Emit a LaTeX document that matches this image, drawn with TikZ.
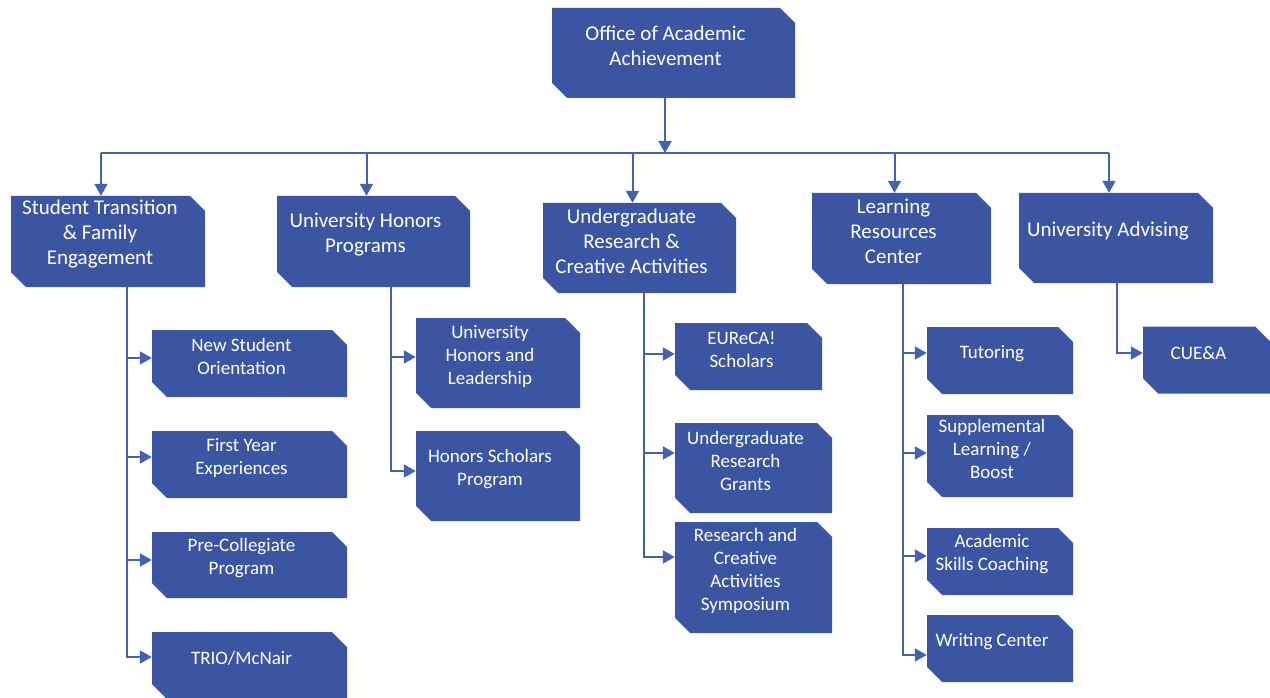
\documentclass[tikz,border=0pt]{standalone}
\usepackage{fontspec}
\setmainfont{Carlito}
\usetikzlibrary{arrows.meta}

\definecolor{boxblue}{RGB}{59,85,163}
\definecolor{lineblue}{RGB}{68,98,178}

\begin{document}
\begin{tikzpicture}[x=1pt,y=-1pt,
    unit/.style={rectangle,inner sep=0pt,fill=white,
      path picture={\fill[boxblue] (path picture bounding box.north west)
        -- ([xshift=-15pt]path picture bounding box.north east)
        -- ([yshift=-15pt]path picture bounding box.north east)
        -- (path picture bounding box.south east)
        -- ([xshift=15pt]path picture bounding box.south west)
        -- ([yshift=15pt]path picture bounding box.south west) -- cycle;}},
    head/.style={text=white,align=center,font=\fontsize{21}{25}\selectfont},
    sub/.style={text=white,align=center,font=\fontsize{19}{23}\selectfont},
    bar/.style={draw=lineblue,line width=2pt},
    link/.style={bar,-{Triangle[length=12pt,width=13pt]}}]
    \useasboundingbox (0,0) rectangle (1270,698);

    % top and first level
    \node[unit,minimum width=243pt,minimum height=90pt] (oaa) at (673.5,53) {};
    \node[unit,minimum width=194pt,minimum height=91pt] (stfe) at (108,241.5) {};
    \node[unit,minimum width=193pt,minimum height=91pt] (uhp) at (373.5,241.5) {};
    \node[unit,minimum width=193pt,minimum height=90pt] (urca) at (639.5,248) {};
    \node[unit,minimum width=179pt,minimum height=91pt] (lrc) at (901.5,238.5) {};
    \node[unit,minimum width=194pt,minimum height=90pt] (ua) at (1116,238) {};

    % second level
    \node[unit,minimum width=195pt,minimum height=67pt] (nso) at (249.5,363.5) {};
    \node[unit,minimum width=195pt,minimum height=67pt] (fye) at (249.5,464.5) {};
    \node[unit,minimum width=195pt,minimum height=66pt] (pcp) at (249.5,565) {};
    \node[unit,minimum width=195pt,minimum height=67pt] (trio) at (249.5,665.5) {};
    \node[unit,minimum width=164pt,minimum height=90pt] (uhl) at (498,363) {};
    \node[unit,minimum width=164pt,minimum height=90pt] (hsp) at (498,476) {};
    \node[unit,minimum width=147pt,minimum height=67pt] (eureca) at (748.5,356.5) {};
    \node[unit,minimum width=157pt,minimum height=90pt] (urg) at (753.5,468) {};
    \node[unit,minimum width=157pt,minimum height=111pt] (rcas) at (753.5,577.5) {};
    \node[unit,minimum width=146pt,minimum height=67pt] (tut) at (1000,360.5) {};
    \node[unit,minimum width=146pt,minimum height=82pt] (sup) at (1000,456) {};
    \node[unit,minimum width=146pt,minimum height=67pt] (ask) at (1000,561.5) {};
    \node[unit,minimum width=146pt,minimum height=67pt] (wc) at (1000,648.5) {};
    \node[unit,minimum width=127pt,minimum height=67pt] (cuea) at (1206.5,360) {};

    % texts
    \node[head] (oaa-t) at ([shift={(-8pt,7pt)}]oaa.center) {Office of Academic\\Achievement};
    \node[head] (stfe-t) at ([shift={(-8pt,7pt)}]stfe.center) {Student Transition\\\& Family\\Engagement};
    \node[head] (uhp-t) at ([shift={(-8pt,7pt)}]uhp.center) {University Honors\\Programs};
    \node[head] (urca-t) at ([shift={(-8pt,7pt)}]urca.center) {Undergraduate\\Research \&\\Creative Activities};
    \node[head] (lrc-t) at ([shift={(-8pt,7pt)}]lrc.center) {Learning\\Resources\\Center};
    \node[head] (ua-t) at ([shift={(-8pt,7pt)}]ua.center) {University Advising};
    \node[sub] (nso-t) at ([shift={(-8pt,7pt)}]nso.center) {New Student\\Orientation};
    \node[sub] (fye-t) at ([shift={(-8pt,7pt)}]fye.center) {First Year\\Experiences};
    \node[sub] (pcp-t) at ([shift={(-8pt,7pt)}]pcp.center) {Pre-Collegiate\\Program};
    \node[sub] (trio-t) at ([shift={(-8pt,7pt)}]trio.center) {TRIO/McNair};
    \node[sub] (uhl-t) at ([shift={(-8pt,7pt)}]uhl.center) {University\\Honors and\\Leadership};
    \node[sub] (hsp-t) at ([shift={(-8pt,7pt)}]hsp.center) {Honors Scholars\\Program};
    \node[sub] (eureca-t) at ([shift={(-7pt,7pt)}]eureca.center) {EUReCA!\\Scholars};
    \node[sub] (urg-t) at ([shift={(-8pt,7pt)}]urg.center) {Undergraduate\\Research\\Grants};
    \node[sub] (rcas-t) at ([shift={(-8pt,7pt)}]rcas.center) {Research and\\Creative\\Activities\\Symposium};
    \node[sub] (tut-t) at ([shift={(-8pt,7pt)}]tut.center) {Tutoring};
    \node[sub] (sup-t) at ([shift={(-8pt,7pt)}]sup.center) {Supplemental\\Learning /\\Boost};
    \node[sub] (ask-t) at ([shift={(-8pt,7pt)}]ask.center) {Academic\\Skills Coaching};
    \node[sub] (wc-t) at ([shift={(-8pt,7pt)}]wc.center) {Writing Center};
    \node[sub] (cuea-t) at ([shift={(-8pt,7pt)}]cuea.center) {CUE\&A};

    % top connectors
    \coordinate (hub) at (665,153);
    \draw[link] (oaa.south -| hub) -- (hub);
    \foreach \n in {stfe,uhp,urca,lrc,ua}
      \coordinate (\n-in) at ([xshift=-7pt]\n.north);
    \draw[bar] (hub -| stfe-in) -- (hub -| ua-in);
    \foreach \n in {stfe,uhp,urca,lrc,ua}
      \draw[link] (hub -| \n-in) -- (\n-in);

    % trunks down to the units
    \coordinate (stfe-out) at ([xshift=19pt]stfe.south);
    \coordinate (uhp-out) at ([xshift=17.5pt]uhp.south);
    \coordinate (urca-out) at ([xshift=4.5pt]urca.south);
    \coordinate (lrc-out) at ([xshift=1.5pt]lrc.south);
    \coordinate (ua-out) at ([xshift=1pt]ua.south);
    \foreach \n/\s in {nso/5.5,fye/7.5,pcp/5,trio/8.5}
      \draw[link] (stfe-out) |- ([yshift=\s pt]\n.west);
    \foreach \n/\s in {uhl/6,hsp/5}
      \draw[link] (uhp-out) |- ([yshift=\s pt]\n.west);
    \foreach \n/\s in {eureca/2.5,urg/15,rcas/20.5}
      \draw[link] (urca-out) |- ([yshift=\s pt]\n.west);
    \foreach \n/\s in {tut/7.5,sup/3,ask/5.5,wc/-6.5}
      \draw[link] (lrc-out) |- ([yshift=\s pt]\n.west);
    \draw[link] (ua-out) |- ([yshift=7pt]cuea.west);
\end{tikzpicture}
\end{document}
